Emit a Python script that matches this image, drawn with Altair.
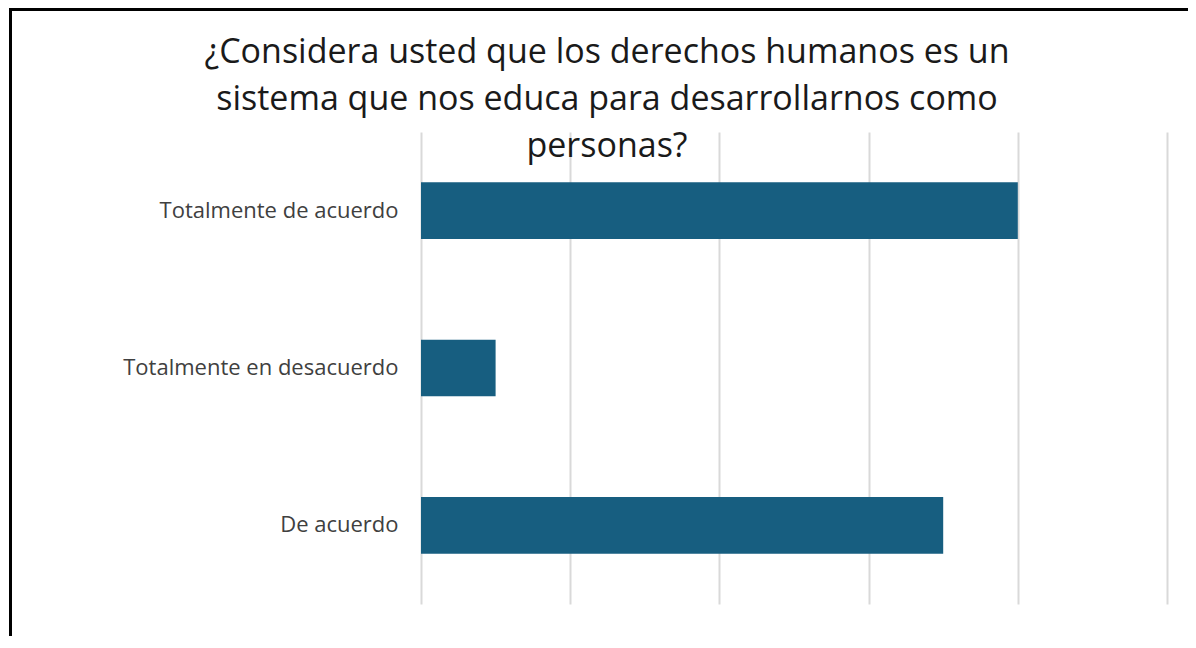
import altair as alt
import pandas as pd

categories = ["Totalmente de acuerdo", "Totalmente en desacuerdo", "De acuerdo"]
values = [8, 1, 7]
title_lines = [
    "¿Considera usted que los derechos humanos es un",
    "sistema que nos educa para desarrollarnos como",
    "personas?",
]

df = pd.DataFrame({"categoria": categories, "valor": values})

FONT = "Open Sans"

bars = alt.Chart(df).mark_bar(color="#175E80").encode(
    x=alt.X(
        "valor:Q",
        scale=alt.Scale(domain=[0, 10], nice=False),
        axis=alt.Axis(
            values=[0, 2, 4, 6, 8, 10],
            labels=False,
            ticks=False,
            domain=False,
            title=None,
            grid=True,
            gridColor="#D9D9D9",
            gridWidth=2,
        ),
    ),
    y=alt.Y(
        "categoria:N",
        sort=categories,
        scale=alt.Scale(paddingInner=0.64, paddingOuter=0.32),
        axis=alt.Axis(
            title=None,
            ticks=False,
            domain=False,
            grid=False,
            labelFont=FONT,
            labelFontSize=22,
            labelColor="#404040",
            labelPadding=23,
            labelLimit=400,
        ),
    ),
)

title_df = pd.DataFrame({"t": [0]})
title_text = alt.Chart(title_df).mark_text(
    font=FONT,
    fontSize=34,
    color="#1A1A1A",
    align="center",
    baseline="alphabetic",
    lineHeight=47,
).encode(
    x=alt.value(186),
    y=alt.value(-69),
    text=alt.value(title_lines),
)

frame = alt.Chart(pd.DataFrame({"f": [0]})).mark_rect(
    filled=False, stroke="black", strokeWidth=3
).encode(
    x=alt.value(-410.5),
    x2=alt.value(900),
    y=alt.value(-122.5),
    y2=alt.value(700),
)

chart = alt.layer(bars, title_text, frame).properties(
    width=746,
    height=472,
    padding={"left": 413, "top": 124, "right": 21, "bottom": 32},
    autosize=alt.AutoSizeParams(type="none"),
    background="white",
).configure_view(stroke=None, strokeWidth=0)

chart.save("out.html", embed_options={"renderer": "svg", "actions": False})
